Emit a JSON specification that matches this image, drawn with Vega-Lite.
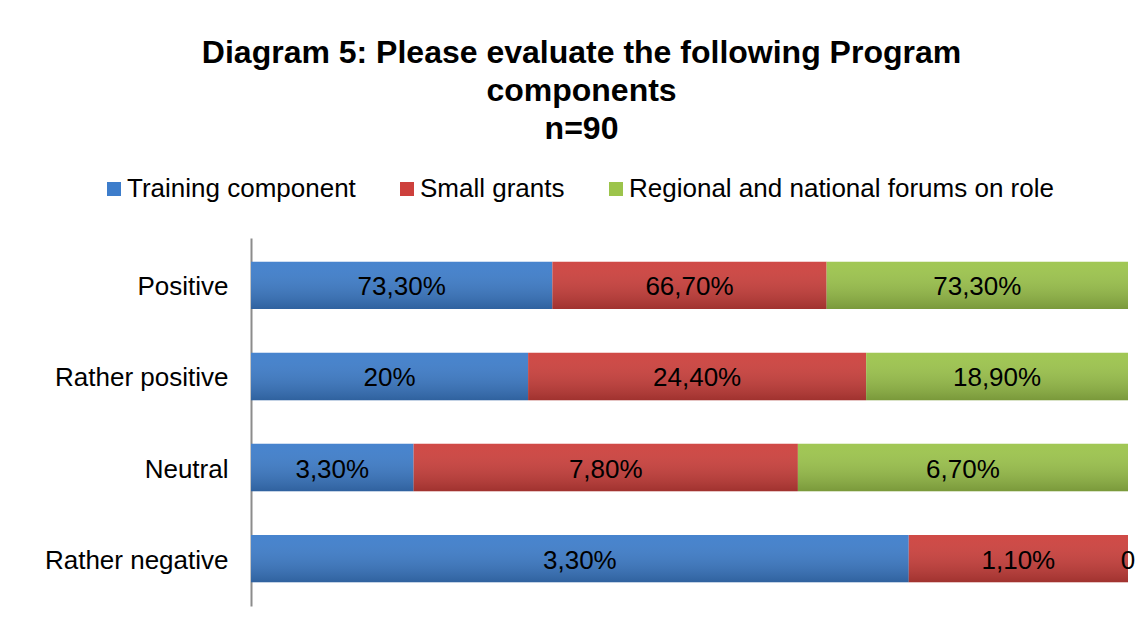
{
  "$schema": "https://vega.github.io/schema/vega-lite/v6.json",
  "width": 877,
  "height": 368,
  "autosize": {"type": "none"},
  "padding": {"left": 251, "top": 238, "right": 18, "bottom": 18},
  "background": "white",
  "title": {
    "text": ["Diagram 5: Please evaluate the following Program", "components", "n=90"],
    "anchor": "middle",
    "frame": "group",
    "dx": -108,
    "fontSize": 32,
    "fontWeight": "bold",
    "font": "Liberation Sans",
    "color": "black",
    "lineHeight": 38,
    "offset": 30,
    "limit": 0
  },
  "data": {
    "values": [
      {"cat": "Positive", "series": "Training component", "value": 73.3, "label": "73,30%"},
      {"cat": "Positive", "series": "Small grants", "value": 66.7, "label": "66,70%"},
      {"cat": "Positive", "series": "Regional and national forums on role", "value": 73.3, "label": "73,30%"},
      {"cat": "Rather positive", "series": "Training component", "value": 20, "label": "20%"},
      {"cat": "Rather positive", "series": "Small grants", "value": 24.4, "label": "24,40%"},
      {"cat": "Rather positive", "series": "Regional and national forums on role", "value": 18.9, "label": "18,90%"},
      {"cat": "Neutral", "series": "Training component", "value": 3.3, "label": "3,30%"},
      {"cat": "Neutral", "series": "Small grants", "value": 7.8, "label": "7,80%"},
      {"cat": "Neutral", "series": "Regional and national forums on role", "value": 6.7, "label": "6,70%"},
      {"cat": "Rather negative", "series": "Training component", "value": 3.3, "label": "3,30%"},
      {"cat": "Rather negative", "series": "Small grants", "value": 1.1, "label": "1,10%"},
      {"cat": "Rather negative", "series": "Regional and national forums on role", "value": 0, "label": "0"}
    ]
  },
  "transform": [
    {"calculate": "indexof(['Training component','Small grants','Regional and national forums on role'], datum.series)", "as": "k"},
    {"stack": "value", "groupby": ["cat"], "sort": [{"field": "k", "order": "ascending"}], "offset": "normalize", "as": ["x0", "x1"]},
    {"calculate": "(datum.x0 + datum.x1) / 2", "as": "xm"}
  ],
  "encoding": {
    "y": {
      "field": "cat",
      "type": "nominal",
      "sort": ["Positive", "Rather positive", "Neutral", "Rather negative"],
      "scale": {"paddingInner": 0.48, "paddingOuter": 0.26},
      "axis": {
        "title": null,
        "ticks": false,
        "labelFontSize": 26,
        "labelFont": "Liberation Sans",
        "labelColor": "black",
        "labelPadding": 23,
        "labelLimit": 0,
        "labelOffset": 2,
        "domainColor": "#8c8c8c",
        "domainWidth": 2,
        "grid": false
      }
    }
  },
  "layer": [
    {
      "mark": {"type": "bar"},
      "encoding": {
        "x": {"field": "x0", "type": "quantitative", "scale": {"domain": [0, 1], "nice": false}, "axis": null},
        "x2": {"field": "x1"},
        "color": {
          "field": "series",
          "type": "nominal",
          "sort": ["Training component", "Small grants", "Regional and national forums on role"],
          "scale": {"domain": ["Training component", "Small grants", "Regional and national forums on role"], "range": ["#3d7dcb", "#cd403c", "#9cc44b"]},
          "legend": {
            "title": null,
            "orient": "none",
            "direction": "horizontal",
            "legendX": -150,
            "legendY": -62,
            "symbolType": "square",
            "symbolSize": 196,
            "symbolStrokeWidth": 0,
            "labelFontSize": 26,
            "labelFont": "Liberation Sans",
            "labelColor": "black",
            "labelLimit": 0,
            "labelOffset": 0,
            "columnPadding": 38,
            "padding": 0
          }
        }
      }
    },
    {
      "mark": {
        "type": "bar",
        "color": {
          "gradient": "linear",
          "x1": 0, "y1": 0, "x2": 0, "y2": 1,
          "stops": [
            {"offset": 0, "color": "rgba(255,255,255,0.05)"},
            {"offset": 1, "color": "rgba(0,0,0,0.22)"}
          ]
        }
      },
      "encoding": {
        "x": {"field": "x0", "type": "quantitative"},
        "x2": {"field": "x1"}
      }
    },
    {
      "mark": {"type": "text", "fontSize": 26, "font": "Liberation Sans", "color": "black", "align": "center", "baseline": "middle", "dy": 2},
      "encoding": {
        "x": {"field": "xm", "type": "quantitative"},
        "text": {"field": "label"}
      }
    }
  ],
  "config": {
    "view": {"stroke": null},
    "font": "Liberation Sans"
  }
}
